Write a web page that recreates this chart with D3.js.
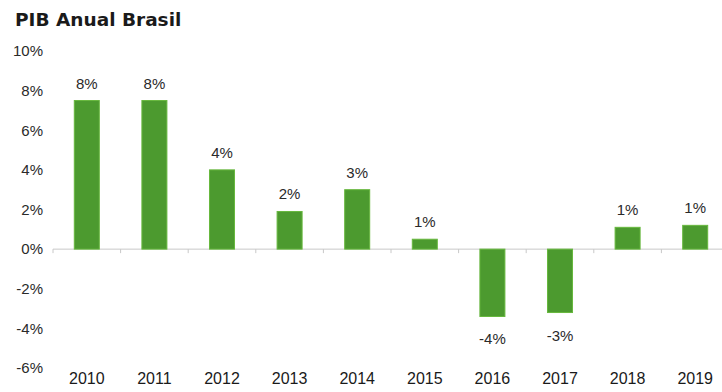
<!DOCTYPE html>
<html><head><meta charset="utf-8">
<script src="https://cdn.jsdelivr.net/npm/d3@7"></script>
<style>body{margin:0;background:#fff}svg{display:block}</style>
</head><body>
<svg id="c" width="722" height="392"></svg>
<script>
const years = ["2010","2011","2012","2013","2014","2015","2016","2017","2018","2019"];
const values = [7.5, 7.5, 4.0, 1.9, 3.0, 0.5, -3.4, -3.2, 1.1, 1.2];
const labels = ["8%","8%","4%","2%","3%","1%","-4%","-3%","1%","1%"];
const yTicks = [10, 8, 6, 4, 2, 0, -2, -4, -6];
const title = "PIB Anual Brasil";

const svg = d3.select("#c");
const x = d3.scaleBand().domain(years).range([53, 729]).paddingInner(0.63).paddingOuter(0.315);
const y = d3.scaleLinear().domain([-6, 10]).range([368, 51]);

svg.append("text").attr("x", 15).attr("y", 26).text(title)
  .attr("font-family", "DejaVu Sans, Verdana, sans-serif").attr("font-weight", "bold")
  .attr("font-size", 18.5).attr("fill", "#1a1a1a");

const ya = svg.append("g").attr("transform", "translate(43,0)")
  .call(d3.axisLeft(y).tickValues(yTicks).tickSize(0).tickPadding(0).tickFormat(d => d + "%"));
ya.select(".domain").remove();
ya.selectAll("text").attr("font-family", "Liberation Sans, Arial, sans-serif").attr("font-size", 15).attr("fill", "#2a2a2a");

// zero axis line with category ticks
const xa = svg.append("g").attr("transform", `translate(0,${y(0)})`);
xa.append("line").attr("x1", 53).attr("x2", 722).attr("stroke", "#c8c8c8");
xa.selectAll("line.t").data(years).join("line").attr("class", "t")
  .attr("x1", d => x(d) + x.bandwidth() / 2 - x.step() / 2)
  .attr("x2", d => x(d) + x.bandwidth() / 2 - x.step() / 2)
  .attr("y1", 0).attr("y2", 4).attr("stroke", "#c8c8c8");

svg.selectAll("rect.bar").data(values).join("rect").attr("class", "bar")
  .attr("x", (d, i) => x(years[i]))
  .attr("width", x.bandwidth())
  .attr("y", d => y(Math.max(0, d)))
  .attr("height", d => Math.abs(y(d) - y(0)))
  .attr("fill", "#4c9a2f").attr("stroke", "#67b83e").attr("stroke-width", 1);

svg.selectAll("text.dl").data(values).join("text").attr("class", "dl")
  .attr("x", (d, i) => x(years[i]) + x.bandwidth() / 2)
  .attr("y", d => d >= 0 ? y(d) - 12 : y(d) + 28)
  .attr("text-anchor", "middle")
  .attr("font-family", "Liberation Sans, Arial, sans-serif").attr("font-size", 15).attr("fill", "#2a2a2a")
  .text((d, i) => labels[i]);

svg.selectAll("text.xl").data(years).join("text").attr("class", "xl")
  .attr("x", d => x(d) + x.bandwidth() / 2)
  .attr("y", 384)
  .attr("text-anchor", "middle")
  .attr("font-family", "Liberation Sans, Arial, sans-serif").attr("font-size", 16).attr("fill", "#1a1a1a")
  .text(d => d);
</script>
</body></html>
